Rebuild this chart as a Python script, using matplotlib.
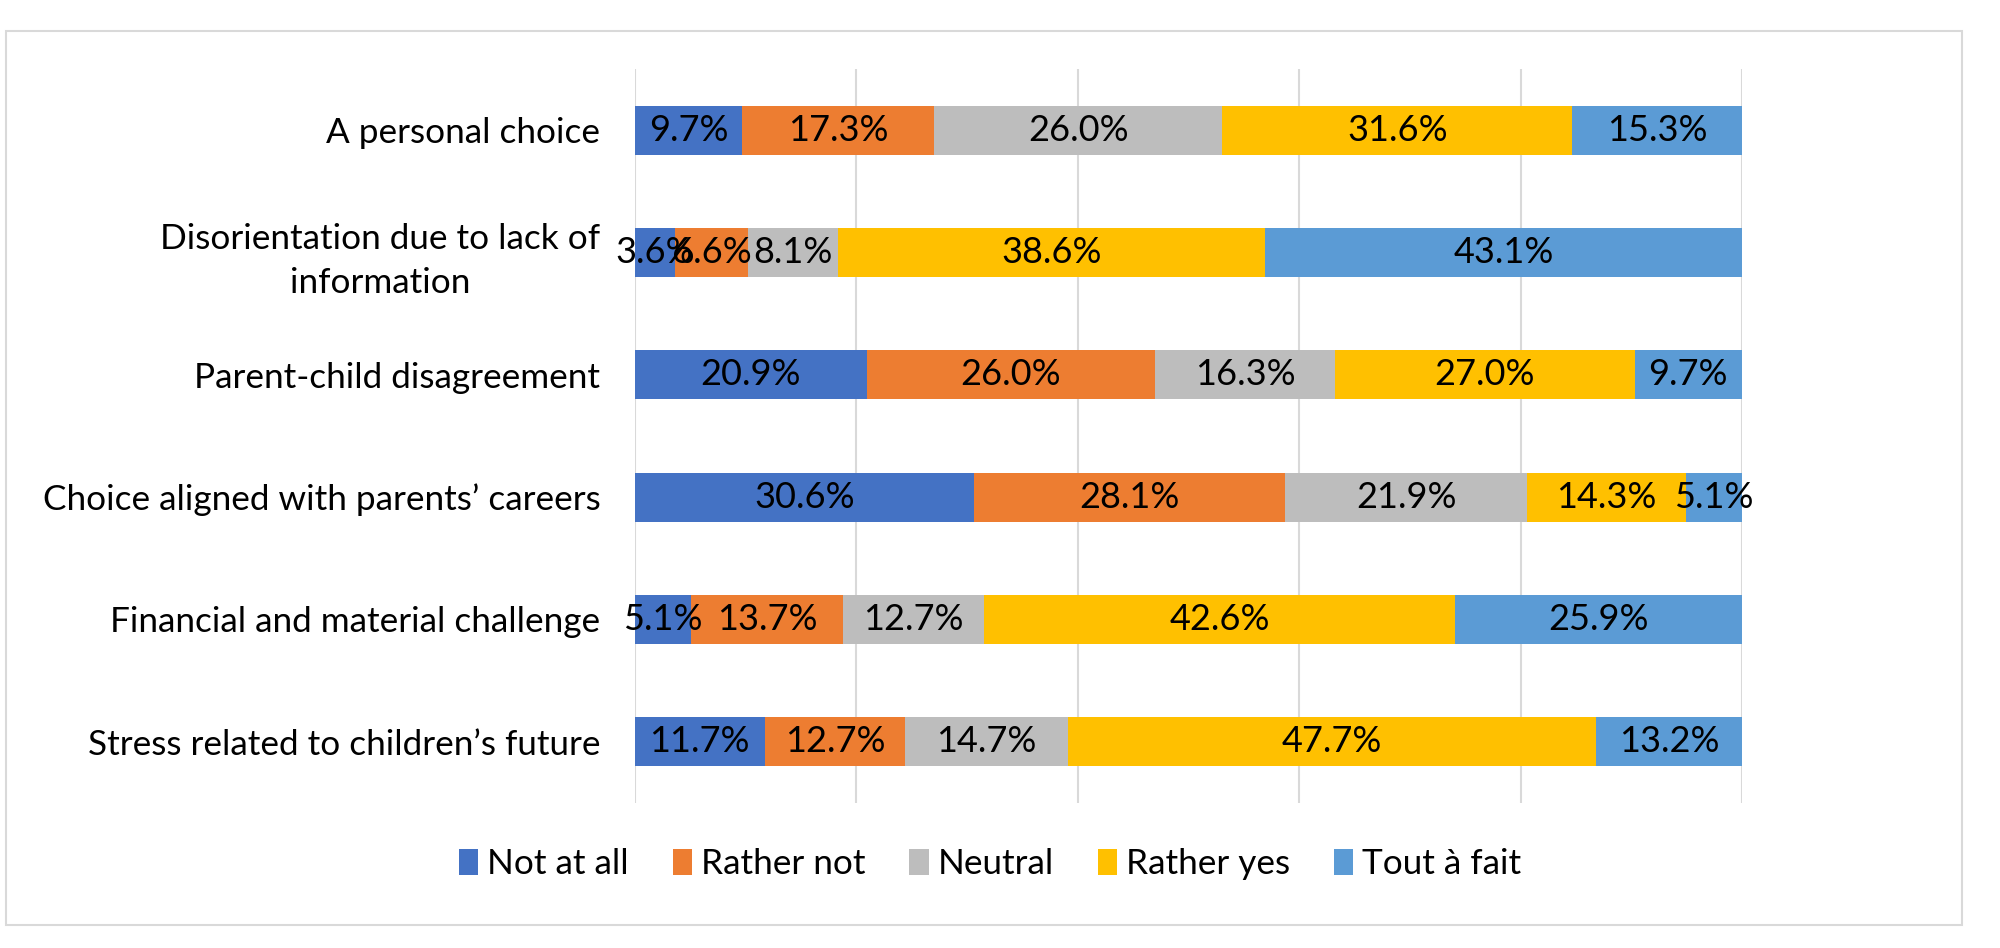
import matplotlib.pyplot as plt
import numpy as np
from matplotlib.patches import Rectangle

plt.rcParams['font.family'] = ['Lato', 'DejaVu Sans']

# Data (percent of respondents, top row first)
categories = ['A personal choice',
              'Disorientation due to lack of\ninformation',
              'Parent-child disagreement',
              'Choice aligned with parents\u2019 careers',
              'Financial and material challenge',
              'Stress related to children\u2019s future']
series_names = ['Not at all', 'Rather not', 'Neutral', 'Rather yes', 'Tout \u00e0 fait']
not_at_all = [9.7, 3.6, 20.9, 30.6, 5.1, 11.7]
rather_not = [17.3, 6.6, 26.0, 28.1, 13.7, 12.7]
neutral = [26.0, 8.1, 16.3, 21.9, 12.7, 14.7]
rather_yes = [31.6, 38.6, 27.0, 14.3, 42.6, 47.7]
tout_a_fait = [15.3, 43.1, 9.7, 5.1, 25.9, 13.2]

COLORS = ['#4472C4', '#ED7D31', '#BDBDBD', '#FFC000', '#5B9BD5']
GRID_COLOR = '#D9D9D9'
FS = 26      # data labels
FS_CAT = 25.3  # category labels and legend

values = np.array([not_at_all, rather_not, neutral, rather_yes, tout_a_fait])
# 100% stacked: normalise each row
shares = values / values.sum(axis=0) * 100

fig = plt.figure(figsize=(20, 9.48), dpi=100)
ax = fig.add_axes([0.3175, 0.153, 0.5535, 0.7743])

y = np.arange(len(categories))
left = np.zeros(len(categories))
for i, name in enumerate(series_names):
    bars = ax.barh(y, shares[i], left=left, height=0.4, color=COLORS[i],
                   label=name, zorder=3)
    for j, rect in enumerate(bars):
        ax.text(rect.get_x() + rect.get_width() / 2, rect.get_y() + rect.get_height() / 2,
                f'{values[i, j]:.1f}%', ha='center', va='center',
                fontsize=FS, color='black', zorder=4)
    left += shares[i]

ax.set_xlim(0, 100)
ax.set_ylim(len(categories) - 0.5, -0.5)
ax.set_xticks(np.arange(0, 101, 20))
ax.set_xticklabels([])
ax.set_yticks(y)
ax.set_yticklabels(categories, fontsize=FS_CAT, linespacing=1.45, multialignment='center')
ax.tick_params(length=0, pad=25)
ax.grid(axis='x', color=GRID_COLOR, linewidth=1.5, zorder=0)
for s in ax.spines.values():
    s.set_visible(False)

fig.legend(loc='center', bbox_to_anchor=(0.495, 0.0886), ncol=5, frameon=False,
           fontsize=FS_CAT, handlelength=0.55, handleheight=0.75, handletextpad=0.25,
           columnspacing=1.25)

# Chart area border
fig.patches.append(Rectangle((0.003, 1 - 925 / 948), 0.978, (925 - 31) / 948,
                             transform=fig.transFigure, fill=False,
                             edgecolor=GRID_COLOR, linewidth=1.5))

plt.savefig('out.png', dpi=100, facecolor='white')
plt.close()
